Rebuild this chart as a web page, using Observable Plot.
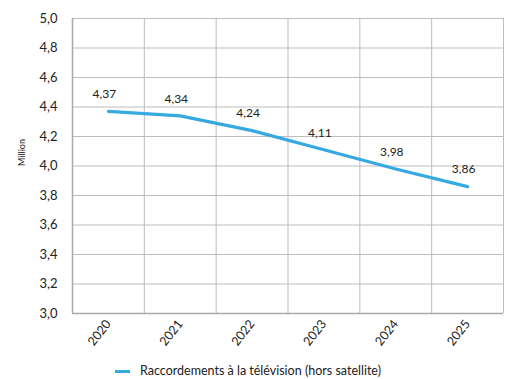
<!DOCTYPE html>
<html><head><meta charset="utf-8">
<script src="https://cdn.jsdelivr.net/npm/d3@7"></script>
<script src="https://cdn.jsdelivr.net/npm/@observablehq/plot@0.6"></script>
<style>
body{margin:0;background:#fff;font-family:Lato,"Open Sans",sans-serif;}
#legend{position:absolute;left:0;top:362px;width:507px;height:17px;font-size:12.5px;color:#222;}
#legend .sw{position:absolute;left:115px;top:8px;width:15px;height:3px;background:#36a9e1;}
#legend .tx{position:absolute;left:140px;top:1px;}
</style></head>
<body>
<div id="chart"></div>
<div id="legend"><span class="sw"></span><span class="tx">Raccordements à la télévision (hors satellite)</span></div>
<script>
const years = [2020, 2021, 2022, 2023, 2024, 2025];
const values = [4.37, 4.34, 4.24, 4.11, 3.98, 3.86];
const yTicks = [3.0, 3.2, 3.4, 3.6, 3.8, 4.0, 4.2, 4.4, 4.6, 4.8, 5.0];
const seriesName = "Raccordements à la télévision (hors satellite)";
const data = years.map((y, i) => ({year: y, value: values[i]}));
const edges = years.map(y => y - 0.5).concat([years[years.length - 1] + 0.5]);
const fmt = v => v.toFixed(1).replace(".", ",");
const fmt2 = v => v.toFixed(2).replace(".", ",");

const chart = Plot.plot({
  width: 507,
  height: 360,
  marginLeft: 72,
  marginRight: 4,
  marginTop: 18,
  marginBottom: 47,
  style: {fontFamily: "Lato, 'Open Sans', sans-serif", fontSize: "12px", color: "#222", background: "#fff"},
  x: {type: "linear", domain: [years[0] - 0.5, years[years.length - 1] + 0.5]},
  y: {domain: [3.0, 5.0]},
  marks: [
    Plot.ruleY(yTicks, {stroke: "#bdbdbd", strokeWidth: 1}),
    Plot.ruleX(edges, {stroke: "#bdbdbd", strokeWidth: 1}),
    Plot.ruleX([edges[0]], {stroke: "#a9a9a9", strokeWidth: 1.5}),
    Plot.ruleY([3.0], {stroke: "#a9a9a9", strokeWidth: 1.5}),
    Plot.axisY({ticks: yTicks, tickFormat: fmt, tickSize: 0, tickPadding: 15, fontSize: 13, label: null}),
    Plot.axisX({ticks: years, tickFormat: d => String(d), tickSize: 0, tickPadding: 8, tickRotate: -52, fontSize: 12.5, label: null}),
    Plot.text(["Million"], {frameAnchor: "left", dx: -50, rotate: -90, fontSize: 9, fill: "#222"}),
    Plot.line(data, {x: "year", y: "value", stroke: "#36a9e1", strokeWidth: 3.2}),
    Plot.text(data, {x: "year", y: "value", text: d => fmt2(d.value), dy: -17, dx: -4, fontSize: 12, fill: "#222"})
  ]
});
document.getElementById("chart").appendChild(chart);
</script>
</body></html>
